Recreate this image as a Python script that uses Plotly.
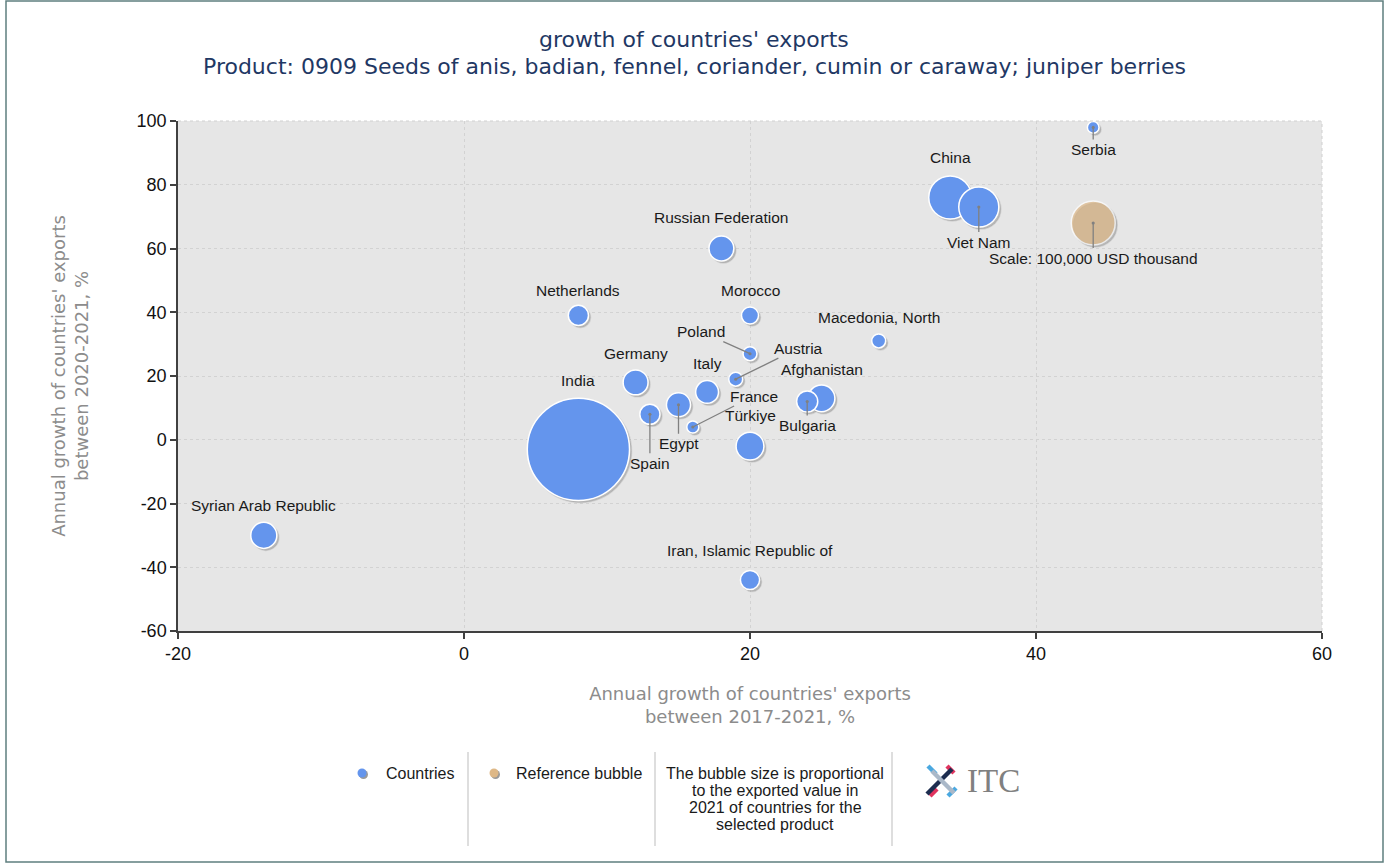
import plotly.graph_objects as go

# data: annual export growth (%) and 2021 export value (USD thousand)
countries = [
    "India", "China", "Viet Nam", "Syrian Arab Republic", "Türkiye",
    "Iran, Islamic Republic of", "Spain", "Egypt", "France", "Italy",
    "Germany", "Netherlands", "Russian Federation", "Morocco", "Poland",
    "Austria", "Afghanistan", "Bulgaria", "Macedonia, North", "Serbia",
]
growth_2017_2021 = [8, 34, 36, -14, 20, 20, 13, 15, 16, 17, 12, 8, 18, 20, 20, 19, 25, 24, 29, 44]
growth_2020_2021 = [-3, 76, 73, -30, -2, -44, 8, 11, 4, 15, 18, 39, 60, 39, 27, 19, 13, 12, 31, 98]
export_value_2021 = [
    540000, 95000, 83000, 35000, 40000, 19000, 21000, 30000, 7500, 27000,
    32000, 21000, 32000, 15000, 10000, 10000, 37000, 23000, 10000, 7000,
]
ref_x = [44]
ref_y = [68]
ref_value = [100000]
ref_label = "Scale: 100,000 USD thousand"

x_ticks = [-20, 0, 20, 40, 60]
y_ticks = [-60, -40, -20, 0, 20, 40, 60, 80, 100]

BLUE = "#6495ED"
TAN = "#DEB887"
W, H = 1389, 864
L, R, T, B = 178, 67, 121, 233
sizeref = 2 * ref_value[0] / 44 ** 2


def px_x(p):
    return (p - L) / (W - L - R)


def px_y(p):
    return (H - B - p) / (H - T - B)


# label placement: (ax, ay) pixel offsets for leader lines, or yshift for plain labels
LEADERS = {
    "Serbia": (0, 22), "Viet Nam": (0, 35), "Poland": (-49, -22),
    "Austria": (63, -31), "France": (61, -31), "Bulgaria": (0, 24),
    "Egypt": (0, 39), "Spain": (0, 49), ref_label: (0, 35),
}
SHIFTS = {
    "China": 40, "Russian Federation": 31, "Netherlands": 25, "Morocco": 25,
    "Macedonia, North": 23, "Germany": 29, "Italy": 28, "India": 69,
    "Afghanistan": 29, "Türkiye": 31, "Syrian Arab Republic": 30,
    "Iran, Islamic Republic of": 30,
}

# soft drop shadow, offset a couple of pixels down-right
sx = 2 / 14.3
sy = 2 / 3.1875
all_x = growth_2017_2021 + ref_x
all_y = growth_2020_2021 + ref_y
all_v = export_value_2021 + ref_value

fig = go.Figure()
fig.add_trace(go.Scatter(
    x=[v + sx for v in all_x], y=[v - sy for v in all_y], mode="markers",
    marker=dict(size=all_v, sizemode="area", sizeref=sizeref,
                color="rgba(90,90,90,0.45)", line=dict(width=1.5, color="rgba(90,90,90,0.2)")),
    hoverinfo="skip", showlegend=False,
))
fig.add_trace(go.Scatter(
    x=growth_2017_2021, y=growth_2020_2021, mode="markers", name="Countries",
    text=countries, customdata=export_value_2021,
    hovertemplate="%{text}<br>%{x}%, %{y}%<br>%{customdata:,} USD thousand<extra></extra>",
    marker=dict(size=export_value_2021, sizemode="area", sizeref=sizeref, color=BLUE,
                opacity=1, line=dict(color="white", width=1.5)),
))
fig.add_trace(go.Scatter(
    x=ref_x, y=ref_y, mode="markers", name="Reference bubble",
    marker=dict(size=ref_value, sizemode="area", sizeref=sizeref, color=TAN,
                line=dict(color="white", width=1.5)),
    hoverinfo="skip",
))

label_font = dict(family="Liberation Sans, Arial", size=15.5, color="#1a1a1a")
annotations = []
for name, x, y in zip(countries + [ref_label], all_x, all_y):
    if name in LEADERS:
        ax, ay = LEADERS[name]
        annotations.append(dict(x=x, y=y, text=name, showarrow=True, ax=ax, ay=ay,
                                arrowhead=6, arrowsize=0.6, arrowwidth=1.3,
                                arrowcolor="#808080", font=label_font))
    else:
        annotations.append(dict(x=x, y=y, text=name, showarrow=False,
                                yshift=SHIFTS.get(name, 25), font=label_font))

title_font = dict(family="DejaVu Sans, Verdana", size=22, color="#1f3864")
annotations += [
    dict(xref="paper", yref="paper", x=px_x(694), y=px_y(40), yanchor="middle",
         text="growth of countries' exports", showarrow=False, font=title_font),
    dict(xref="paper", yref="paper", x=px_x(694), y=px_y(67), yanchor="middle",
         text="Product: 0909 Seeds of anis, badian, fennel, coriander, cumin or caraway; juniper berries",
         showarrow=False, font=title_font),
]

legend_font = dict(family="Liberation Sans, Arial", size=16, color="#1a1a1a")
annotations += [
    dict(xref="paper", yref="paper", x=px_x(384), y=px_y(773), xanchor="left", yanchor="middle",
         text="Countries", showarrow=False, font=legend_font),
    dict(xref="paper", yref="paper", x=px_x(514), y=px_y(773), xanchor="left", yanchor="middle",
         text="Reference bubble", showarrow=False, font=legend_font),
    dict(xref="paper", yref="paper", x=px_x(965), y=px_y(781), xanchor="left", yanchor="middle",
         text="ITC", showarrow=False,
         font=dict(family="Liberation Serif, DejaVu Serif", size=33, color="#808080")),
]
note_lines = ["The bubble size is proportional", "to the exported value in",
              "2021 of countries for the", "selected product"]
for i, line in enumerate(note_lines):
    annotations.append(dict(xref="paper", yref="paper", x=px_x(775), y=px_y(773 + 17.3 * i),
                            yanchor="middle", text=line, showarrow=False, font=legend_font))

shapes = [
    # outer frame
    dict(type="rect", xref="paper", yref="paper", x0=px_x(6), x1=px_x(1383), y0=px_y(862), y1=px_y(1),
         line=dict(color="#5f7f7f", width=1.5)),
    # dotted top/right plot edges
    dict(type="line", xref="paper", yref="paper", x0=0, x1=1, y0=1, y1=1,
         line=dict(color="#d0d0d0", width=1, dash="dot")),
    dict(type="line", xref="paper", yref="paper", x0=1, x1=1, y0=0, y1=1,
         line=dict(color="#d0d0d0", width=1, dash="dot")),
]
# legend separators
for sxp in [468, 655, 892]:
    shapes.append(dict(type="line", xref="paper", yref="paper", x0=px_x(sxp), x1=px_x(sxp),
                       y0=px_y(846), y1=px_y(752), line=dict(color="#bdbdbd", width=1)))
# legend symbols with a small shadow
for cx, col in [(362, BLUE), (494, TAN)]:
    for dx, c in [(1.5, "#9a9a9a"), (0, col)]:
        shapes.append(dict(type="circle", xref="paper", yref="paper",
                           xsizemode="pixel", ysizemode="pixel",
                           xanchor=px_x(cx + dx), yanchor=px_y(773 + dx),
                           x0=-4.5, x1=4.5, y0=-4.5, y1=4.5,
                           fillcolor=c, line=dict(width=0)))
# ITC logo mark
for (x0, y0, x1, y1, c) in [
    (928, 766, 936, 774, "#4aa8e0"), (948, 796, 956, 788, "#4aa8e0"),
    (947, 766, 954, 773, "#e0335e"), (930, 796, 937, 789, "#e0335e"),
    (927, 794, 952, 769, "#1d2d4f"), (932, 771, 954, 793, "#aab8c8"),
]:
    shapes.append(dict(type="line", xref="paper", yref="paper",
                       x0=px_x(x0), y0=px_y(y0), x1=px_x(x1), y1=px_y(y1),
                       line=dict(color=c, width=4.5)))

axis_title_font = dict(family="DejaVu Sans, Verdana", size=18, color="#8c8c8c")
tick_font = dict(family="Liberation Sans, Arial", size=18, color="#111111")
axis_common = dict(
    showline=True, linecolor="#404040", linewidth=1.5, ticks="outside", ticklen=6,
    tickcolor="#404040", tickwidth=1.5, showgrid=True, gridcolor="#d2d2d2",
    griddash="dot", gridwidth=1, zeroline=False, tickfont=tick_font,
)

fig.update_layout(
    width=W, height=H, margin=dict(l=L, r=R, t=T, b=B),
    paper_bgcolor="white", plot_bgcolor="#e6e6e6", showlegend=False,
    xaxis=dict(range=[-20, 60], tickvals=x_ticks, ticktext=[str(v) for v in x_ticks],
               title=dict(text="Annual growth of countries' exports<br>between 2017-2021, %",
                          font=axis_title_font, standoff=24), **axis_common),
    yaxis=dict(range=[-60, 100], tickvals=y_ticks, ticktext=[str(v) for v in y_ticks],
               title=dict(text="Annual growth of countries' exports<br>between 2020-2021, %",
                          font=axis_title_font, standoff=43), **axis_common),
    annotations=annotations, shapes=shapes,
)

fig.write_html("out.html", config={"displayModeBar": False},
               post_script="document.body.style.margin='0';")
